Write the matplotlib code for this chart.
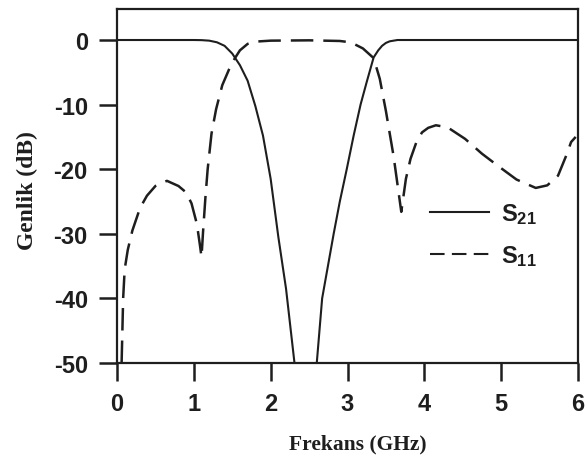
import matplotlib
matplotlib.use("Agg")
import matplotlib.pyplot as plt
from matplotlib.lines import Line2D

# Transmission (S21) of the band-pass filter, dB vs GHz
s21_freq_lo = [0.0, 0.5, 1.0, 1.1, 1.2, 1.3, 1.4, 1.5, 1.6, 1.7, 1.8, 1.9, 2.0, 2.1, 2.2, 2.31]
s21_db_lo = [0.0, 0.0, 0.0, -0.02, -0.1, -0.35, -0.9, -2.1, -3.9, -6.3, -10.2, -14.8, -21.5, -30.5, -38.5, -50.0]
s21_freq_hi = [2.60, 2.67, 2.82, 2.90, 2.99, 3.08, 3.17, 3.25, 3.34, 3.40, 3.45, 3.50, 3.55, 3.65, 4.5, 6.0]
s21_db_hi = [-50.0, -40.0, -30.0, -25.0, -20.0, -14.8, -10.0, -6.5, -2.7, -1.6, -0.9, -0.45, -0.2, 0.0, 0.0, 0.0]

# Reflection (S11), dB vs GHz
s11_freq = [0.06, 0.08, 0.10, 0.14, 0.20, 0.30, 0.39, 0.50, 0.65, 0.80, 0.90, 0.97, 1.04, 1.08,
            1.10, 1.12, 1.15, 1.18, 1.23, 1.29, 1.37, 1.46, 1.53, 1.60, 1.70, 1.80, 2.00, 2.50,
            2.90, 3.00, 3.10, 3.20, 3.34, 3.42, 3.50, 3.60, 3.70, 3.76, 3.82, 3.90, 3.97, 4.05,
            4.15, 4.30, 4.53, 4.75, 4.96, 5.20, 5.45, 5.60, 5.74, 5.85, 5.91, 5.97]
s11_db = [-50.0, -40.0, -35.5, -32.5, -29.5, -26.0, -24.1, -22.6, -21.8, -22.6, -23.6, -25.3, -28.5, -31.8,
          -33.6, -29.7, -24.5, -20.0, -14.5, -10.7, -7.0, -4.5, -2.9, -1.6, -0.6, -0.25, -0.1, -0.05,
          -0.15, -0.3, -0.7, -1.3, -2.8, -6.0, -11.0, -18.0, -26.6, -21.5, -18.4, -15.7, -14.3, -13.6,
          -13.2, -13.5, -15.3, -17.6, -19.5, -21.6, -22.9, -22.5, -21.0, -17.8, -15.8, -15.0]

x_ticks = [0, 1, 2, 3, 4, 5, 6]
y_ticks = [0, -10, -20, -30, -40, -50]
series_names = ["S$_{21}$", "S$_{11}$"]

# subscripts use the same bold sans face as the surrounding text
plt.rcParams["mathtext.default"] = "regular"

ink = "#1e1e1e"
fig = plt.figure(figsize=(5.86, 4.64), dpi=100)
ax = fig.add_axes([117 / 586, 1 - 364 / 464, 461 / 586, 354 / 464])

ax.plot(s21_freq_lo, s21_db_lo, color=ink, lw=1.5)
ax.plot(s21_freq_hi, s21_db_hi, color=ink, lw=1.5)
ax.plot(s11_freq, s11_db, color=ink, lw=1.8, linestyle=(0, (9, 4)))

ax.set_xlim(0, 6)
ax.set_ylim(-50, 4.8)
ax.set_xticks(x_ticks)
ax.set_yticks(y_ticks)
ax.set_xticklabels([str(v) for v in x_ticks])
ax.set_yticklabels([str(v) for v in y_ticks])

for lbl in ax.get_xticklabels() + ax.get_yticklabels():
    lbl.set_fontfamily("Liberation Sans")
    lbl.set_fontweight("bold")
    lbl.set_fontsize(17)
    lbl.set_color(ink)

ax.tick_params(direction="out", length=13, width=1.8, color=ink, pad=8)
for sp in ax.spines.values():
    sp.set_linewidth(1.6)
    sp.set_color(ink)

ax.set_xlabel("Frekans (GHz)", fontfamily="Liberation Serif", fontweight="bold",
              fontsize=15.5, color=ink, labelpad=13, x=0.522)
ax.set_ylabel("Genlik (dB)", fontfamily="Liberation Serif", fontweight="bold",
              fontsize=17, color=ink, labelpad=11, y=0.49)

# legend keys drawn with shorter dashes than the plotted curve
keys = [Line2D([], [], color=ink, lw=1.5),
        Line2D([], [], color=ink, lw=1.5, linestyle=(0, (7, 3.5)))]
leg = ax.legend(keys, series_names, loc="center left", bbox_to_anchor=(0.633, 0.362),
                frameon=False, prop={"family": "Liberation Sans", "weight": "bold", "size": 17},
                handlelength=2.5, handletextpad=0.5, labelspacing=0.72)
for t in leg.get_texts():
    t.set_color(ink)

fig.savefig("out.png", dpi=100)
